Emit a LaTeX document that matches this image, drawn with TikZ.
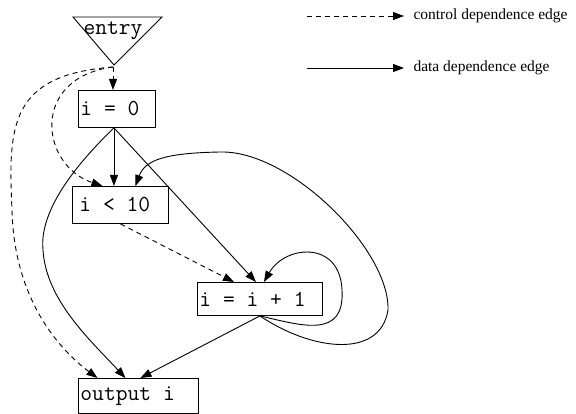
\documentclass[tikz,border=0pt]{standalone}
\usepackage{fontspec}
\usetikzlibrary{arrows.meta}
\newfontfamily\legendface{Liberation Serif}
\newfontfamily\codeface{Latin Modern Mono}[WordSpace={1,0,0}]
\newcommand\codeline[2]{\makebox[#1][l]{#2}}
\begin{document}
\begin{tikzpicture}[
    x=1pt, y=-1pt,
    code/.style={font=\codeface\fontsize{22.9}{26}\selectfont},
    stmt/.style={code, draw, line width=0.9pt, anchor=north west, inner xsep=2pt, inner ysep=0pt},
    ctrl/.style={-{Triangle[length=11pt,width=8pt]}, line width=0.9pt, dash pattern=on 5pt off 4pt},
    data/.style={-{Triangle[length=11pt,width=8pt]}, line width=0.9pt},
    legend/.style={anchor=west, font=\legendface\fontsize{15.5}{18}\selectfont}
]
\useasboundingbox (0,0) rectangle (576,414);

% Entry
\draw[line width=0.9pt] (73,17) -- (162,17) -- (114,65) -- cycle;
\node[code, inner sep=0pt] (entry) at (113,31) {entry};
\coordinate (entryapex) at (113,67);

% Statements
\node[stmt, minimum height=37pt] (izero) at (78,90) {\codeline{73pt}{i = 0}};
\node[stmt, minimum height=37pt] (ilt) at (72,186) {\codeline{92pt}{\hspace{5pt}i < 10}};
\node[stmt, minimum height=33pt] (iinc) at (197,282) {\codeline{121pt}{i = i + 1}};
\node[stmt, minimum height=35pt] (output) at (78,378) {\codeline{116pt}{output i}};
\coordinate (izerofoot) at ([xshift=-3pt]izero.south);

% Legend
\node[legend] (ctrllabel) at (410,16) {control dependence edge};
\node[legend] (datalabel) at (410,68) {data dependence edge};
\coordinate (ctrlstart) at (307,16);
\coordinate (datastart) at (307,68);
\draw[ctrl] (ctrlstart) -- ([xshift=-6pt]ctrllabel.west);
\draw[data] (datastart) -- ([xshift=-6pt]datalabel.west);

% Control dependence edges
\draw[ctrl] (entryapex) -- (entryapex |- izero.north);
\draw[ctrl] (entryapex) .. controls (30,78) and (40,165) .. ([xshift=-18pt]ilt.north);
\draw[ctrl] (entryapex) .. controls (10,75) and (8,125) .. (12,210)
    .. controls (14,300) and (60,350) .. ([xshift=-41pt]output.north);
\draw[ctrl] (ilt.south) -- ([xshift=-26pt]iinc.north);

% Data dependence edges
\draw[data] (izerofoot) -- (izerofoot |- ilt.north);
\draw[data] (izerofoot) -- ([xshift=-4pt]iinc.north);
\draw[data] (izerofoot) .. controls (60,180) and (40,220) .. (43,250)
    .. controls (46,300) and (90,340) .. ([xshift=-13pt]output.north);
\draw[data] (iinc.south) -- ([xshift=2pt]output.north);
\draw[data] (iinc.south) .. controls (300,325) and (345,340) .. (342,290)
    .. controls (340,240) and (285,245) .. ([xshift=4pt]iinc.north);
\draw[data] (iinc.south) .. controls (310,350) and (380,360) .. (388,310)
    .. controls (390,250) and (290,150) .. (220,152)
    .. controls (165,153) and (145,160) .. ([xshift=15pt]ilt.north);

\end{tikzpicture}
\end{document}
